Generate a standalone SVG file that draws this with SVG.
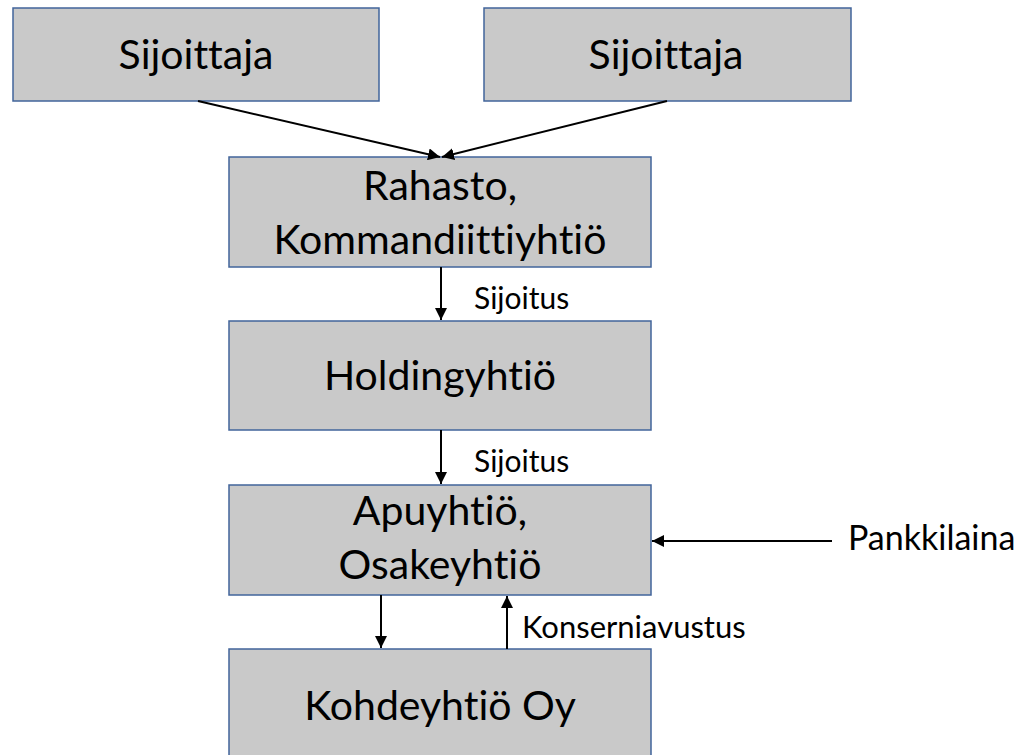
<svg xmlns="http://www.w3.org/2000/svg" width="1027" height="755" viewBox="0 0 1027 755">
<style>
.box{fill:#c9c9c9;stroke:#41649b;stroke-width:1.5}
text{font-variant-ligatures:none;font-feature-settings:"liga" 0}
.big{font-family:Lato,"Open Sans",sans-serif;font-size:41px;fill:#000;text-anchor:middle}
.lbl{font-family:Lato,"Open Sans",sans-serif;font-size:30px;fill:#000}
.con{stroke:#000;stroke-width:2;fill:none;marker-end:url(#ah)}
</style>
<defs>
<marker id="ah" viewBox="0 0 10 10" refX="10" refY="5" markerWidth="6" markerHeight="6" orient="auto" markerUnits="strokeWidth">
<path d="M0,0 L10,5 L0,10 z" fill="#000"/>
</marker>
</defs>
<rect width="1027" height="755" fill="#fff"/>
<g id="n-sij1"><rect class="box" x="13" y="8" width="366" height="93"/><text class="big" x="196" y="69">Sijoittaja</text></g>
<g id="n-sij2"><rect class="box" x="484" y="8" width="367" height="93"/><text class="big" x="666" y="69">Sijoittaja</text></g>
<g id="n-rahasto"><rect class="box" x="229" y="157" width="422" height="110"/><text class="big" x="440" y="200">Rahasto,</text><text class="big" x="440" y="254">Kommandiittiyhtiö</text></g>
<g id="n-holding"><rect class="box" x="229" y="321" width="422" height="109"/><text class="big" x="440" y="390">Holdingyhtiö</text></g>
<g id="n-apu"><rect class="box" x="229" y="485" width="422" height="110"/><text class="big" x="440" y="525">Apuyhtiö,</text><text class="big" x="440" y="579">Osakeyhtiö</text></g>
<g id="n-kohde"><rect class="box" x="229" y="649" width="422" height="120"/><text class="big" x="440" y="720">Kohdeyhtiö Oy</text></g>
<g id="connectors">
<line class="con" x1="198" y1="101" x2="440" y2="157"/>
<line class="con" x1="667" y1="101" x2="442" y2="157"/>
<line class="con" x1="441" y1="267" x2="441" y2="320"/>
<line class="con" x1="441" y1="430" x2="441" y2="484"/>
<line class="con" x1="381" y1="595" x2="381" y2="648"/>
<line class="con" x1="507" y1="649" x2="507" y2="596"/>
<line class="con" x1="832" y1="541" x2="652" y2="541"/>
<text class="lbl" x="474" y="309">Sijoitus</text>
<text class="lbl" x="474" y="472">Sijoitus</text>
<text class="lbl" x="522" y="638" style="font-size:31px">Konserniavustus</text>
<text class="lbl" x="848" y="550" style="font-size:34px">Pankkilaina</text>
</g>
</svg>
